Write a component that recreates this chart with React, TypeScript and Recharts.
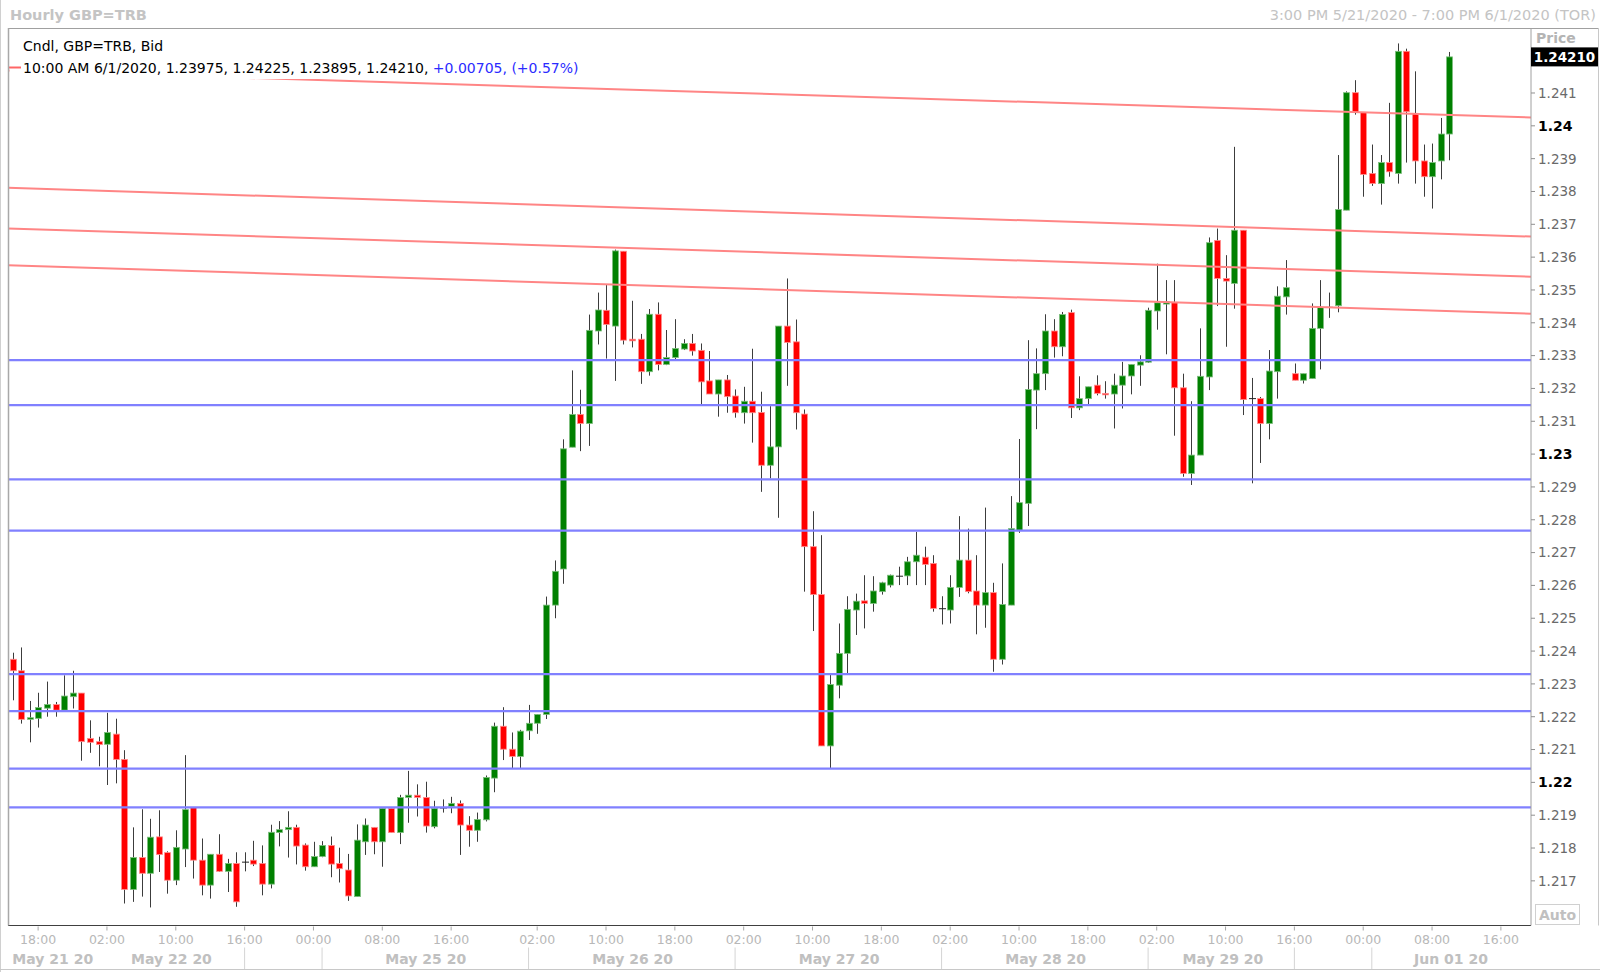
import React from 'react';
import { ComposedChart, Bar, XAxis, YAxis, ReferenceLine } from 'recharts';

// ---------- data ----------
const opens = [
  1.22375, 1.2234, 1.22192, 1.22195, 1.22226, 1.22237, 1.2222, 1.22261, 1.22272, 1.22134,
  1.22124, 1.22116, 1.22147, 1.2207, 1.21674, 1.21771, 1.21723, 1.21834, 1.21786, 1.21702,
  1.21797, 1.21923, 1.21763, 1.21687, 1.21781, 1.21729, 1.21753, 1.21757, 1.21763, 1.21753,
  1.2169, 1.21847, 1.21856, 1.21863, 1.21809, 1.21743, 1.21774, 1.21808, 1.21753, 1.21733,
  1.21652, 1.21819, 1.21863, 1.21819, 1.21921, 1.21847, 1.21954, 1.21961, 1.21954, 1.21865,
  1.21922, 1.21927, 1.21936, 1.2187, 1.21854, 1.21886, 1.22013, 1.22171, 1.22101, 1.22079,
  1.22157, 1.2218, 1.22207, 1.2254, 1.2265, 1.23021, 1.23121, 1.23093, 1.23375, 1.23438,
  1.2339, 1.23618, 1.2335, 1.2335, 1.23251, 1.23426, 1.23273, 1.23294, 1.2332, 1.23337,
  1.23316, 1.23223, 1.23183, 1.23226, 1.23177, 1.23126, 1.23161, 1.23127, 1.22966, 1.23022,
  1.2339, 1.23342, 1.23122, 1.22718, 1.22572, 1.22111, 1.22296, 1.22393, 1.22525, 1.22553,
  1.22545, 1.22581, 1.22601, 1.22628, 1.22629, 1.22672, 1.22686, 1.22667, 1.22529, 1.22525,
  1.22594, 1.22677, 1.22583, 1.2254, 1.22578, 1.22375, 1.2254, 1.22768, 1.2285, 1.23195,
  1.23245, 1.23375, 1.23327, 1.23431, 1.23141, 1.23169, 1.2321, 1.23185, 1.23183, 1.2321,
  1.23238, 1.23271, 1.2328, 1.23436, 1.23457, 1.23461, 1.23202, 1.22941, 1.22997, 1.23235,
  1.23651, 1.23535, 1.2352, 1.23682, 1.23169, 1.23169, 1.23093, 1.23251, 1.23479, 1.23245,
  1.23225, 1.2323, 1.23383, 1.23447, 1.23452, 1.23743, 1.24101, 1.24041, 1.23855, 1.23824,
  1.23888, 1.23855, 1.24227, 1.24038, 1.23893, 1.23845, 1.23893, 1.23975,
];
const highs = [
  1.22395, 1.22411, 1.22248, 1.22273, 1.22307, 1.22245, 1.22326, 1.2234, 1.22272, 1.22189,
  1.22139, 1.22212, 1.22194, 1.22098, 1.21863, 1.21918, 1.21889, 1.21915, 1.2179, 1.21854,
  1.22083, 1.21923, 1.21829, 1.21781, 1.21842, 1.21767, 1.21787, 1.21787, 1.21822, 1.21808,
  1.21871, 1.21882, 1.21912, 1.21871, 1.21814, 1.21819, 1.21821, 1.21835, 1.21801, 1.21782,
  1.21872, 1.2189, 1.21863, 1.21921, 1.21921, 1.21962, 1.22035, 1.21994, 1.22002, 1.21944,
  1.21948, 1.21956, 1.21945, 1.21897, 1.21908, 1.22021, 1.22182, 1.22229, 1.22152, 1.2216,
  1.22236, 1.22207, 1.22566, 1.22676, 1.23045, 1.23255, 1.23196, 1.23425, 1.23492, 1.23515,
  1.23623, 1.23618, 1.23467, 1.23366, 1.23442, 1.23462, 1.23378, 1.23411, 1.2335, 1.23366,
  1.23337, 1.23314, 1.23226, 1.23241, 1.23197, 1.23205, 1.23321, 1.2319, 1.23146, 1.2339,
  1.23535, 1.2341, 1.23136, 1.22826, 1.22753, 1.22327, 1.22484, 1.22567, 1.22575, 1.22631,
  1.22628, 1.22611, 1.22633, 1.22657, 1.22687, 1.22763, 1.22718, 1.22692, 1.22567, 1.22631,
  1.22811, 1.22773, 1.22692, 1.22837, 1.22608, 1.22667, 1.22872, 1.23046, 1.23347, 1.23322,
  1.23426, 1.23411, 1.23433, 1.2344, 1.23237, 1.23205, 1.2324, 1.23222, 1.23245, 1.23281,
  1.23273, 1.23301, 1.23446, 1.2358, 1.2353, 1.2353, 1.23245, 1.23161, 1.23383, 1.2366,
  1.23687, 1.23606, 1.23936, 1.23682, 1.23232, 1.23174, 1.23317, 1.23511, 1.23591, 1.23276,
  1.23245, 1.23459, 1.2353, 1.23492, 1.23911, 1.24105, 1.24139, 1.24041, 1.23943, 1.23911,
  1.2407, 1.24251, 1.24235, 1.24166, 1.23943, 1.23946, 1.24024, 1.24225,
];
const lows = [
  1.2225, 1.22179, 1.22122, 1.22167, 1.222, 1.222, 1.2222, 1.22225, 1.22066, 1.2209,
  1.22049, 1.21992, 1.21997, 1.21631, 1.21636, 1.21652, 1.21619, 1.21727, 1.21661, 1.21687,
  1.21742, 1.21707, 1.21656, 1.21646, 1.21727, 1.21666, 1.21621, 1.21729, 1.21745, 1.21656,
  1.21677, 1.21805, 1.21771, 1.2175, 1.21731, 1.21743, 1.21772, 1.21711, 1.21695, 1.21639,
  1.21652, 1.21779, 1.21781, 1.21743, 1.21847, 1.21812, 1.21877, 1.21896, 1.21847, 1.2186,
  1.21908, 1.21906, 1.21779, 1.21804, 1.21819, 1.21881, 1.2197, 1.22068, 1.22043, 1.22043,
  1.22129, 1.22148, 1.22193, 1.225, 1.22605, 1.23021, 1.23009, 1.23025, 1.23334, 1.23291,
  1.23223, 1.23334, 1.23325, 1.23214, 1.23239, 1.23255, 1.23271, 1.23289, 1.23317, 1.233,
  1.23151, 1.23183, 1.23114, 1.23126, 1.23111, 1.23093, 1.23035, 1.22885, 1.22926, 1.22806,
  1.23208, 1.23075, 1.22581, 1.22461, 1.22111, 1.22043, 1.22256, 1.22332, 1.22449, 1.22469,
  1.2252, 1.22572, 1.22594, 1.22601, 1.22601, 1.22601, 1.22601, 1.2252, 1.22481, 1.22484,
  1.22565, 1.22576, 1.22451, 1.22471, 1.22337, 1.22359, 1.2254, 1.2276, 1.22781, 1.23076,
  1.23195, 1.23294, 1.23298, 1.2311, 1.23134, 1.23152, 1.23179, 1.23169, 1.23078, 1.23139,
  1.23182, 1.23208, 1.23278, 1.23379, 1.23304, 1.23056, 1.22931, 1.22906, 1.22997, 1.23195,
  1.23451, 1.23327, 1.23443, 1.23119, 1.22911, 1.22973, 1.23045, 1.23169, 1.23425, 1.23225,
  1.23215, 1.2323, 1.23258, 1.23415, 1.23432, 1.23743, 1.24034, 1.23784, 1.23817, 1.2376,
  1.23845, 1.23824, 1.23888, 1.23824, 1.23784, 1.23748, 1.23837, 1.23895,
];
const closes = [
  1.2234, 1.22192, 1.22197, 1.22228, 1.22237, 1.2222, 1.22263, 1.22272, 1.22124, 1.22122,
  1.22115, 1.22152, 1.2207, 1.21674, 1.21771, 1.21723, 1.21833, 1.2178, 1.21702, 1.21802,
  1.21917, 1.21763, 1.21687, 1.21781, 1.21729, 1.21753, 1.21636, 1.21757, 1.21751, 1.2169,
  1.21848, 1.21856, 1.21863, 1.21806, 1.21743, 1.21774, 1.21808, 1.21751, 1.21737, 1.21654,
  1.21824, 1.2187, 1.21819, 1.21921, 1.21847, 1.21954, 1.21961, 1.21954, 1.21867, 1.21921,
  1.21922, 1.21936, 1.2187, 1.21854, 1.21887, 1.22015, 1.22171, 1.22101, 1.22079, 1.22156,
  1.2218, 1.22207, 1.2254, 1.22643, 1.23016, 1.23121, 1.23093, 1.23377, 1.23439, 1.23395,
  1.23619, 1.23347, 1.23345, 1.23251, 1.23426, 1.23273, 1.23294, 1.23322, 1.23337, 1.23314,
  1.2322, 1.23183, 1.23226, 1.23175, 1.23126, 1.23161, 1.23126, 1.22966, 1.23022, 1.2339,
  1.2334, 1.23126, 1.22718, 1.22572, 1.22111, 1.22298, 1.22393, 1.22527, 1.22552, 1.22545,
  1.22583, 1.22608, 1.22631, 1.22628, 1.22672, 1.22692, 1.22664, 1.2253, 1.22529, 1.22594,
  1.22677, 1.22581, 1.2254, 1.22578, 1.22375, 1.22542, 1.22773, 1.22852, 1.23197, 1.23245,
  1.23375, 1.23327, 1.23425, 1.23141, 1.23169, 1.23205, 1.23185, 1.23182, 1.2321, 1.23238,
  1.23273, 1.23281, 1.23438, 1.23461, 1.23464, 1.23202, 1.22941, 1.22997, 1.23237, 1.23644,
  1.23535, 1.23527, 1.23682, 1.23166, 1.23169, 1.23093, 1.23253, 1.23481, 1.23507, 1.23225,
  1.23245, 1.23383, 1.23447, 1.23447, 1.23745, 1.24101, 1.24041, 1.23852, 1.23824, 1.23888,
  1.2386, 1.24227, 1.24043, 1.23893, 1.23845, 1.23888, 1.23975, 1.2421,
];

const SLOTS = 177; // hourly slots on the axis (data + empty space to the right)

const yTicks = [
  1.217, 1.218, 1.219, 1.22, 1.221, 1.222, 1.223, 1.224, 1.225, 1.226, 1.227, 1.228, 1.229,
  1.23, 1.231, 1.232, 1.233, 1.234, 1.235, 1.236, 1.237, 1.238, 1.239, 1.24, 1.241,
];
const lastPrice = 1.2421;
const lastPriceLabel = '1.24210';

const timeTickIdx = [3, 11, 19, 27, 35, 43, 51, 61, 69, 77, 85, 93, 101, 109, 117, 125, 133, 141, 149, 157, 165, 173];
const timeTickLabels = ['18:00', '02:00', '10:00', '16:00', '00:00', '08:00', '16:00', '02:00', '10:00', '18:00', '02:00',
  '10:00', '18:00', '02:00', '10:00', '18:00', '02:00', '10:00', '16:00', '00:00', '08:00', '16:00'];
const daySeparators = [27, 36, 60, 84, 108, 132, 149, 158];
const dateLabels = ['May 21 20', 'May 22 20', 'May 25 20', 'May 26 20', 'May 27 20', 'May 28 20', 'May 29 20', 'Jun 01 20'];
const dateLabelPos = [4.7, 18.5, 48.05, 72.1, 96.1, 120.1, 140.7, 167.2];

const supportLevels = [1.23286, 1.23149, 1.22923, 1.22767, 1.2233, 1.22217, 1.22042, 1.21924];
const trendStartPrice = [1.24168, 1.23811, 1.23687, 1.23575];
const trendEndPrice = [1.24026, 1.23663, 1.23541, 1.23428];

const titleLeft = 'Hourly GBP=TRB';
const titleRight = '3:00 PM 5/21/2020 - 7:00 PM 6/1/2020 (TOR)';
const legendLine1 = 'Cndl, GBP=TRB, Bid';
const legendLine2a = '10:00 AM 6/1/2020, 1.23975, 1.24225, 1.23895, 1.24210, ';
const legendLine2b = '+0.00705, (+0.57%)';

// ---------- layout ----------
const W = 1600;
const H = 972;
const M_LEFT = 8;
const M_TOP = 28;
const Y_AXIS_W = 69;
const X_AXIS_H = 46.5;
const PLOT_W = W - M_LEFT - Y_AXIS_W;
const BAND = PLOT_W / SLOTS;
const FONT = '"DejaVu Sans", Verdana, sans-serif';

const data = Array.from({ length: SLOTS }, (_, i) =>
  i < opens.length
    ? { i, o: opens[i], h: highs[i], l: lows[i], c: closes[i] }
    : { i, o: null, h: null, l: null, c: null }
);

type TickInfo = { time?: string; sep?: boolean; date?: string; dateOff?: number };
const tickInfo: Record<number, TickInfo> = {};
timeTickIdx.forEach((t, k) => { tickInfo[t] = { ...(tickInfo[t] || {}), time: timeTickLabels[k] }; });
daySeparators.forEach((t) => { tickInfo[t] = { ...(tickInfo[t] || {}), sep: true }; });
dateLabelPos.forEach((p, k) => {
  const r = Math.round(p);
  tickInfo[r] = { ...(tickInfo[r] || {}), date: dateLabels[k], dateOff: p - r };
});
const xTicks = Object.keys(tickInfo).map(Number).sort((a, b) => a - b);

const Candle = (props: any) => {
  const { x, y, width, height, payload } = props;
  if (!payload || payload.o == null) return null;
  const { o, h, l, c } = payload;
  const top = Math.min(y, y + height);
  const bot = Math.max(y, y + height);
  const span = h - l;
  const py = (p: number) => (span > 0 ? top + ((h - p) / span) * (bot - top) : top);
  const cx = Math.round(x + width / 2) + 0.5;
  const yo = py(o);
  const yc = py(c);
  const bt = Math.min(yo, yc);
  const bb = Math.max(yo, yc);
  const up = c > o;
  const flat = c === o;
  return (
    <g>
      <line x1={cx} x2={cx} y1={top} y2={bot} stroke="#3c3c3c" strokeWidth={1} />
      {flat ? (
        <line x1={cx - 3.5} x2={cx + 3.5} y1={yo} y2={yo} stroke="#222" strokeWidth={1} />
      ) : (
        <rect
          x={cx - 3}
          y={bt}
          width={6}
          height={Math.max(bb - bt, 1.5)}
          fill={up ? '#008000' : '#ff0000'}
          stroke={up ? '#7fbf7f' : '#ff9090'}
          strokeWidth={0.8}
        />
      )}
    </g>
  );
};

const TrendShape = (props: any) => {
  const { x1, y1, x2, y2 } = props;
  if ([x1, y1, x2, y2].some((v) => typeof v !== 'number' || isNaN(v))) return null;
  const ex = (x2 - x1) / (SLOTS - 1) / 2;
  const ey = (y2 - y1) / (SLOTS - 1) / 2;
  return <line x1={x1 - ex} y1={y1 - ey} x2={x2 + ex} y2={y2 + ey} stroke="#ff8585" strokeWidth={2} />;
};

const XTick = (props: any) => {
  const { x, y, payload } = props;
  const info = tickInfo[payload.value];
  if (!info) return null;
  return (
    <g>
      {info.time && <line x1={x} x2={x} y1={y + 1} y2={y + 5} stroke="#a8a8a8" strokeWidth={1} />}
      {info.time && (
        <text x={x} y={y + 18.5} textAnchor="middle" fontFamily={FONT} fontSize={12.5} fill="#b8b8b8">
          {info.time}
        </text>
      )}
      {info.sep && <line x1={x} x2={x} y1={y + 22} y2={y + 44} stroke="#d4d4d4" strokeWidth={1} />}
      {info.date && (
        <text
          x={x + (info.dateOff || 0) * BAND}
          y={y + 38.5}
          textAnchor="middle"
          fontFamily={FONT}
          fontSize={14}
          fontWeight="bold"
          fill="#c0c0c0"
        >
          {info.date}
        </text>
      )}
    </g>
  );
};

const YTick = (props: any) => {
  const { x, y, payload } = props;
  const v = payload.value;
  if (Math.abs(v - lastPrice) < 1e-9) {
    return (
      <g>
        <rect x={x} y={y - 9.5} width={67} height={19} fill="#000" />
        <text x={x + 33.5} y={y} dy="0.36em" textAnchor="middle" fontFamily={FONT} fontSize={13.5} fontWeight="bold" fill="#fff">
          {lastPriceLabel}
        </text>
      </g>
    );
  }
  const major = Math.abs(v * 100 - Math.round(v * 100)) < 1e-6;
  const label = major ? String(Math.round(v * 100) / 100) : v.toFixed(3);
  return (
    <g>
      <line x1={x} x2={x + 4} y1={y} y2={y} stroke="#909090" strokeWidth={1} />
      <text
        x={x + 7}
        y={y}
        dy="0.36em"
        textAnchor="start"
        fontFamily={FONT}
        fontSize={major ? 14 : 13.5}
        fontWeight={major ? 'bold' : 'normal'}
        fill={major ? '#000' : '#6a6a6a'}
      >
        {label}
      </text>
    </g>
  );
};

export default function App() {
  const plotRight = W - Y_AXIS_W;
  const plotBottom = H - X_AXIS_H;
  return (
    <div style={{ position: 'absolute', left: 0, top: 0, width: W, height: H, background: '#fff' }}>
      <ComposedChart
        width={W}
        height={H}
        data={data}
        margin={{ top: M_TOP, right: 0, bottom: 0, left: M_LEFT }}
        barCategoryGap={0}
      >
        <XAxis
          dataKey="i"
          type="category"
          ticks={xTicks}
          interval={0}
          tickLine={false}
          tickSize={0}
          tickMargin={0}
          height={X_AXIS_H}
          axisLine={{ stroke: '#404040', strokeWidth: 1 }}
          tick={<XTick />}
        />
        <YAxis
          orientation="right"
          type="number"
          domain={[1.21564, 1.24298]}
          allowDataOverflow
          ticks={[...yTicks, lastPrice]}
          interval={0}
          width={Y_AXIS_W}
          tickLine={false}
          tickSize={0}
          tickMargin={0}
          axisLine={{ stroke: '#a0a0a0', strokeWidth: 1 }}
          tick={<YTick />}
        />
        <Bar
          dataKey={(d: any) => (d.o == null ? null : [d.l, d.h])}
          shape={<Candle />}
          barSize={7}
          isAnimationActive={false}
        />
        {supportLevels.map((v, k) => (
          <ReferenceLine key={'s' + k} y={v} stroke="#8080ff" strokeWidth={2.2} />
        ))}
        {trendStartPrice.map((p, k) => (
          <ReferenceLine
            key={'t' + k}
            segment={[{ x: 0, y: p }, { x: SLOTS - 1, y: trendEndPrice[k] }]}
            stroke="#ff8585"
            strokeWidth={2}
            shape={<TrendShape />}
          />
        ))}
      </ComposedChart>
      <svg
        width={W}
        height={H}
        style={{ position: 'absolute', left: 0, top: 0, pointerEvents: 'none' }}
      >
        {/* legend box */}
        <rect x={9.5} y={29.5} width={590} height={49.5} fill="#fff" />
        <text x={23} y={46} dy="0.36em" fontFamily={FONT} fontSize={14} fill="#000">
          {legendLine1}
        </text>
        <line x1={9} x2={21} y1={67.5} y2={67.5} stroke="#ff6666" strokeWidth={2} />
        <text x={23} y={67.5} dy="0.36em" fontFamily={FONT} fontSize={14} fill="#000">
          {legendLine2a}
          <tspan fill="#2b2bff">{legendLine2b}</tspan>
        </text>
        {/* titles */}
        <text x={10} y={15} dy="0.36em" fontFamily={FONT} fontSize={14.5} fontWeight="bold" fill="#c4c4c4">
          {titleLeft}
        </text>
        <text x={1596} y={15} dy="0.36em" textAnchor="end" fontFamily={FONT} fontSize={14.5} fill="#c4c4c4">
          {titleRight}
        </text>
        {/* frame */}
        <line x1={8} x2={1599} y1={28.5} y2={28.5} stroke="#a0a0a0" strokeWidth={1} />
        <line x1={8.5} x2={8.5} y1={28} y2={plotBottom} stroke="#a8a8a8" strokeWidth={1.5} />
        <line x1={1598.5} x2={1598.5} y1={28} y2={plotBottom} stroke="#c8c8c8" strokeWidth={1} />
        <line x1={0.5} x2={0.5} y1={0} y2={H} stroke="#d0d0d0" strokeWidth={1} />
        <line x1={0} x2={W} y1={969.5} y2={969.5} stroke="#c8c8c8" strokeWidth={1} />
        {/* axis captions */}
        <text x={1536} y={38} dy="0.36em" fontFamily={FONT} fontSize={14} fontWeight="bold" fill="#b4b4b4">
          Price
        </text>
        <rect x={plotRight + 4.5} y={904.5} width={44} height={20} fill="#fff" stroke="#d0d0d0" strokeWidth={1} />
        <text x={plotRight + 26.5} y={914.5} dy="0.36em" textAnchor="middle" fontFamily={FONT} fontSize={14} fontWeight="bold" fill="#c0c0c0">
          Auto
        </text>
      </svg>
    </div>
  );
}
